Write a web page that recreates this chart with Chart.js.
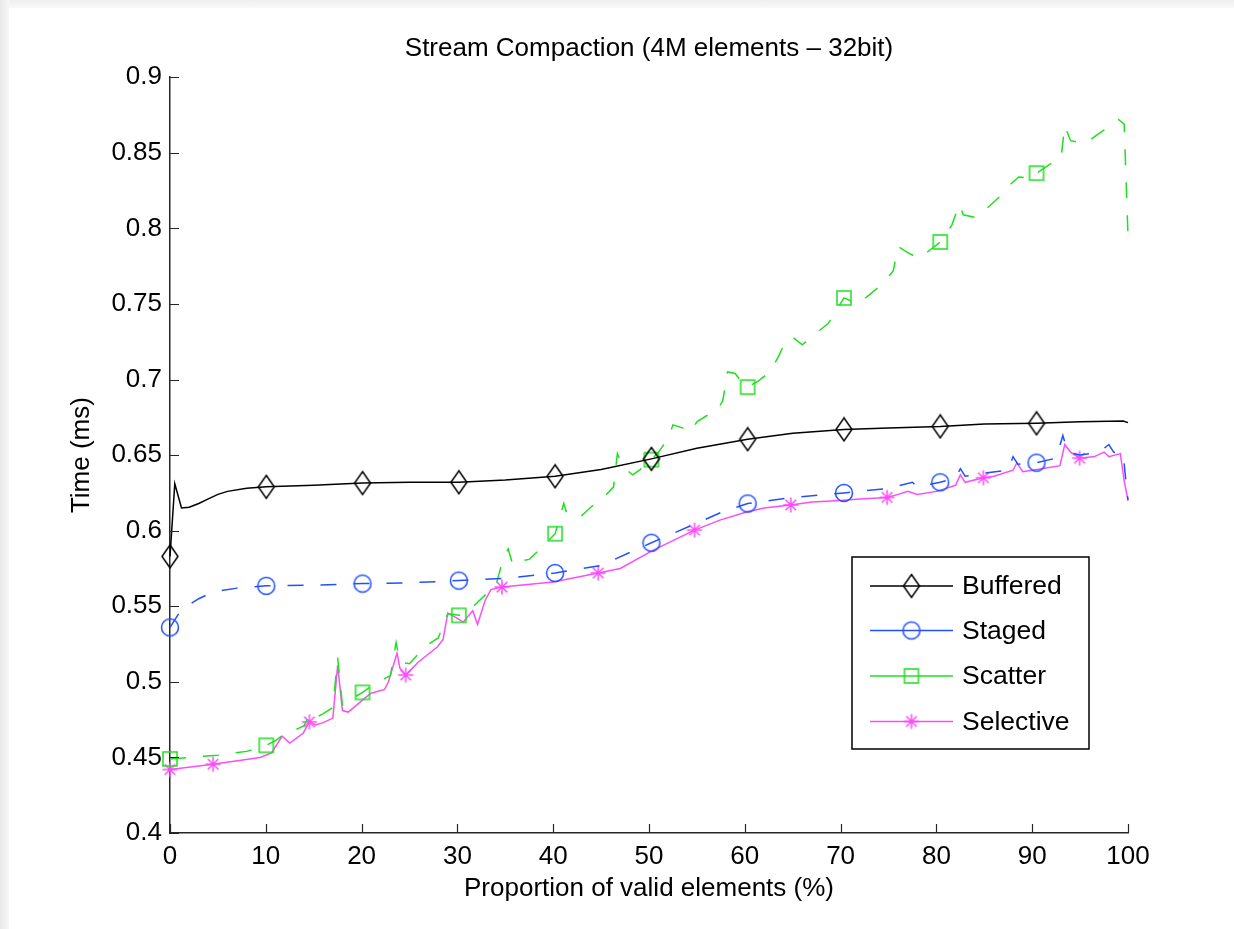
<!DOCTYPE html>
<html>
<head>
<meta charset="utf-8">
<script src="https://cdn.jsdelivr.net/npm/chart.js@4.4.0/dist/chart.umd.min.js"></script>
<style>
  html, body { margin: 0; padding: 0; background: #fff; overflow: hidden; }
  #frameTop { position: absolute; left: 0; top: 0; width: 1234px; height: 8px;
    background: linear-gradient(#eeeeee, #f9f9f9); }
  #frameLeft { position: absolute; left: 0; top: 0; width: 9px; height: 929px;
    background: linear-gradient(to right, #e9e9e9, #f7f7f7); }
  #wrap { position: absolute; left: 0; top: 0; width: 1234px; height: 929px; }
</style>
</head>
<body>
<div id="frameTop"></div>
<div id="frameLeft"></div>
<div id="wrap"><canvas id="chart"></canvas></div>
<script>
// Stream compaction timings
const xTicks = [0, 10, 20, 30, 40, 50, 60, 70, 80, 90, 100];
const yTicks = [0.4, 0.45, 0.5, 0.55, 0.6, 0.65, 0.7, 0.75, 0.8, 0.85, 0.9];

const bufferedX = [0, 0.5, 1.2, 2, 3, 4, 5, 6, 8, 10.05, 15, 20.1, 25, 30.15, 35, 40.2, 45, 50.25, 55, 60.3, 65, 70.35, 75, 80.4, 85, 90.45, 95, 99.5, 100];
const bufferedY = [0.583, 0.631, 0.615, 0.6155, 0.618, 0.621, 0.624, 0.626, 0.628, 0.629, 0.630, 0.6315, 0.632, 0.632, 0.6335, 0.636, 0.6405, 0.6475, 0.6545, 0.6605, 0.6645, 0.667, 0.668, 0.669, 0.6705, 0.671, 0.672, 0.6725, 0.6715];

const stagedX = [0, 1, 2, 3, 4, 5, 7, 10.05, 15, 20.1, 25, 30.15, 35, 40.2, 45, 50.25, 55, 57.5, 60.3, 65, 70.35, 75, 77.5, 78, 80.4, 82, 82.5, 83, 85, 87.5, 88, 88.5, 90.45, 92.5, 93.2, 93.7, 95, 97, 98, 98.5, 99.5, 100];
const stagedY = [0.536, 0.546, 0.551, 0.555, 0.558, 0.560, 0.562, 0.5635, 0.564, 0.565, 0.5655, 0.567, 0.5685, 0.572, 0.577, 0.592, 0.605, 0.612, 0.618, 0.622, 0.625, 0.628, 0.632, 0.629, 0.632, 0.635, 0.641, 0.636, 0.638, 0.640, 0.649, 0.644, 0.645, 0.648, 0.663, 0.652, 0.650, 0.652, 0.657, 0.652, 0.650, 0.620];

const scatterX = [0, 2, 5, 8, 10.05, 11, 12, 13, 14, 14.6, 15.1, 16, 17, 17.5, 18, 19, 20.1, 21, 22, 23, 23.6, 24, 25, 26, 27, 28, 29, 30.15, 31, 32, 33, 34, 34.7, 35.3, 35.8, 36.5, 37.5, 38.5, 40.2, 41.1, 41.5, 43, 44, 45, 46.3, 46.7, 47.3, 48.3, 49, 50.25, 51, 52, 52.5, 53.5, 54.3, 55, 56, 57, 57.7, 58.2, 59, 59.7, 60.3, 61.4, 62.6, 63.5, 64.3, 65, 66, 67.5, 68.7, 70.35, 71.8, 73, 74.5, 75.5, 76, 77, 78.2, 79.4, 80.4, 81.6, 82.4, 82.8, 84.2, 85.4, 86.6, 87.7, 88.6, 90, 90.45, 92, 93, 93.4, 94, 95.5, 96.8, 98.2, 99, 99.6, 100];
const scatterY = [0.449, 0.450, 0.4515, 0.454, 0.458, 0.461, 0.466, 0.468, 0.471, 0.479, 0.476, 0.479, 0.483, 0.516, 0.484, 0.489, 0.493, 0.497, 0.501, 0.504, 0.526, 0.513, 0.512, 0.519, 0.525, 0.529, 0.545, 0.544, 0.546, 0.552, 0.558, 0.563, 0.580, 0.588, 0.577, 0.580, 0.581, 0.587, 0.598, 0.618, 0.610, 0.610, 0.616, 0.620, 0.629, 0.651, 0.642, 0.637, 0.640, 0.647, 0.652, 0.661, 0.670, 0.668, 0.665, 0.672, 0.676, 0.678, 0.686, 0.705, 0.704, 0.698, 0.695, 0.699, 0.705, 0.715, 0.726, 0.728, 0.723, 0.731, 0.737, 0.754, 0.750, 0.756, 0.764, 0.772, 0.788, 0.784, 0.780, 0.786, 0.791, 0.802, 0.816, 0.809, 0.807, 0.814, 0.821, 0.829, 0.834, 0.833, 0.8365, 0.843, 0.846, 0.868, 0.858, 0.856, 0.862, 0.868, 0.872, 0.869, 0.795];

const selectiveX = [0, 4.5, 9.4, 10.6, 11.7, 12.5, 13.9, 14.55, 15.2, 16, 17, 17.5, 18, 18.6, 20.5, 21, 22.4, 22.8, 23.7, 24, 24.6, 25.9, 27.9, 28.5, 29, 30, 30.6, 31.6, 32.1, 32.9, 33.5, 34.65, 40, 44.7, 47, 50.4, 54.75, 57.4, 60, 62, 64.8, 67, 70, 72, 74.85, 76, 77, 78, 80, 81, 82, 82.5, 83, 84.9, 86, 88, 88.4, 89, 91, 92.9, 93.4, 94, 94.95, 96.5, 97.5, 98, 99.2, 99.6, 100];
const selectiveY = [0.442, 0.4455, 0.450, 0.453, 0.464, 0.4595, 0.466, 0.4735, 0.4715, 0.473, 0.476, 0.511, 0.481, 0.480, 0.490, 0.4925, 0.495, 0.500, 0.519, 0.509, 0.5045, 0.513, 0.523, 0.528, 0.5455, 0.542, 0.5395, 0.547, 0.538, 0.554, 0.561, 0.5627, 0.566, 0.572, 0.575, 0.587, 0.6004, 0.607, 0.612, 0.615, 0.617, 0.619, 0.620, 0.621, 0.622, 0.624, 0.626, 0.624, 0.626, 0.628, 0.630, 0.637, 0.632, 0.635, 0.636, 0.640, 0.645, 0.639, 0.641, 0.643, 0.657, 0.652, 0.648, 0.649, 0.652, 0.649, 0.651, 0.633, 0.620];

// where MATLAB put the markers
const markEvery10 = [0, 10.05, 20.1, 30.15, 40.2, 50.25, 60.3, 70.35, 80.4, 90.45];
const markSelective = [0, 4.5, 14.55, 24.6, 34.65, 44.7, 54.75, 64.8, 74.85, 84.9, 94.95];

const FONT = "'Liberation Sans', Arial, Helvetica, sans-serif";
const BLACK = '#000000';
const BLUE = '#2150ff';
const GREEN = '#1fe01f';
const MAGENTA = '#fa4ef8';

// marker glyphs as small canvases, used by the chart and the legend
function makeMarker(type, color) {
    const c = document.createElement('canvas');
    const size = type === 'diamond' ? [20, 26] : [22, 22];
    c.width = size[0];
    c.height = size[1];
    const g = c.getContext('2d');
    const cx = c.width / 2, cy = c.height / 2;
    g.strokeStyle = color;
    g.lineWidth = 1.5;
    g.beginPath();
    if (type === 'diamond') {
        g.moveTo(cx, cy - 11.5);
        g.lineTo(cx + 8, cy);
        g.lineTo(cx, cy + 11.5);
        g.lineTo(cx - 8, cy);
        g.closePath();
    } else if (type === 'circle') {
        g.arc(cx, cy, 8.5, 0, Math.PI * 2);
    } else if (type === 'square') {
        g.rect(cx - 7, cy - 7, 14, 14);
    } else if (type === 'star') {
        const r = 7.5, d = r * Math.SQRT1_2;
        g.moveTo(cx - r, cy); g.lineTo(cx + r, cy);
        g.moveTo(cx, cy - r); g.lineTo(cx, cy + r);
        g.moveTo(cx - d, cy - d); g.lineTo(cx + d, cy + d);
        g.moveTo(cx - d, cy + d); g.lineTo(cx + d, cy - d);
    }
    g.stroke();
    return c;
}

function toPoints(xs, ys) {
    return xs.map((x, i) => ({ x: x, y: ys[i] }));
}

function series(label, xs, ys, color, dash, marker, marks) {
    return {
        label: label,
        data: toPoints(xs, ys),
        borderColor: color,
        borderWidth: 1.5,
        borderDash: dash,
        fill: false,
        tension: 0,
        clip: false,
        pointStyle: makeMarker(marker, color),
        pointRadius: ctx => (ctx.raw && marks.includes(ctx.raw.x)) ? 6 : 0,
        pointHoverRadius: ctx => (ctx.raw && marks.includes(ctx.raw.x)) ? 6 : 0
    };
}

const datasets = [
    series('Buffered', bufferedX, bufferedY, BLACK, [], 'diamond', markEvery10),
    series('Staged', stagedX, stagedY, BLUE, [16, 17], 'circle', markEvery10),
    series('Scatter', scatterX, scatterY, GREEN, [16, 17], 'square', markEvery10),
    series('Selective', selectiveX, selectiveY, MAGENTA, [], 'star', markSelective)
];

// MATLAB style ticks pointing into the axes
const innerTicks = {
    id: 'innerTicks',
    afterDraw(chart) {
        const { ctx, chartArea, scales } = chart;
        ctx.save();
        ctx.strokeStyle = '#262626';
        ctx.lineWidth = 1.2;
        ctx.beginPath();
        scales.x.ticks.forEach(t => {
            const px = Math.round(scales.x.getPixelForValue(t.value)) + 0.5;
            ctx.moveTo(px, chartArea.bottom);
            ctx.lineTo(px, chartArea.bottom - 9);
        });
        scales.y.ticks.forEach(t => {
            const py = Math.round(scales.y.getPixelForValue(t.value)) + 0.5;
            ctx.moveTo(chartArea.left, py);
            ctx.lineTo(chartArea.left + 9, py);
        });
        ctx.stroke();
        ctx.restore();
    }
};

// boxed legend with line + marker samples
const boxLegend = {
    id: 'boxLegend',
    afterDraw(chart) {
        const ctx = chart.ctx;
        const box = { left: 852, top: 557, right: 1089, bottom: 749 };
        const rows = [586, 630.5, 676, 721.5];
        ctx.save();
        ctx.fillStyle = '#fff';
        ctx.fillRect(box.left, box.top, box.right - box.left, box.bottom - box.top);
        ctx.strokeStyle = '#000';
        ctx.lineWidth = 1.5;
        ctx.strokeRect(box.left, box.top, box.right - box.left, box.bottom - box.top);
        ctx.font = '26.5px ' + FONT;
        ctx.textBaseline = 'middle';
        ctx.fillStyle = '#000';
        chart.data.datasets.forEach((ds, i) => {
            const y = rows[i];
            ctx.strokeStyle = ds.borderColor;
            ctx.lineWidth = 1.5;
            ctx.setLineDash([]);
            ctx.beginPath();
            ctx.moveTo(870, y);
            ctx.lineTo(953, y);
            ctx.stroke();
            const m = ds.pointStyle;
            ctx.drawImage(m, 911.5 - m.width / 2, y - m.height / 2);
            ctx.fillText(ds.label, 962, y + 1);
        });
        ctx.restore();
    }
};

Chart.defaults.font.family = FONT;
Chart.defaults.color = '#000';

new Chart(document.getElementById('chart'), {
    type: 'line',
    data: { datasets: datasets },
    options: {
        responsive: true,
        maintainAspectRatio: false,
        animation: false,
        events: [],
        devicePixelRatio: 1,
        layout: { padding: { left: 0, right: 106, top: 0, bottom: 0 } },
        plugins: {
            legend: { display: false },
            tooltip: { enabled: false },
            title: {
                display: true,
                fullSize: false,
                text: 'Stream Compaction (4M elements \u2013 32bit)',
                color: '#000',
                font: { size: 26, weight: 'normal' },
                padding: { top: 33, bottom: 13 }
            }
        },
        scales: {
            x: {
                type: 'linear',
                min: 0,
                max: 100,
                afterBuildTicks: s => { s.ticks = xTicks.map(v => ({ value: v })); },
                afterFit: s => { s.height = 96; },
                grid: { display: false, drawTicks: false },
                border: { display: true, color: '#262626', width: 1.5 },
                ticks: { padding: 8, font: { size: 26 }, color: '#000', maxRotation: 0 },
                title: {
                    display: true,
                    text: 'Proportion of valid elements (%)',
                    font: { size: 26 },
                    color: '#000',
                    padding: { top: 0, bottom: 25 }
                }
            },
            y: {
                type: 'linear',
                min: 0.4,
                max: 0.9,
                afterBuildTicks: s => { s.ticks = yTicks.map(v => ({ value: v })); },
                afterFit: s => { s.width = 170; },
                grid: { display: false, drawTicks: false },
                border: { display: true, color: '#262626', width: 1.5 },
                ticks: {
                    padding: 8,
                    font: { size: 26 },
                    color: '#000',
                    callback: v => String(Number(v.toFixed(2)))
                },
                title: {
                    display: true,
                    text: 'Time (ms)',
                    font: { size: 26 },
                    color: '#000',
                    padding: { top: 66, bottom: 0 }
                }
            }
        }
    },
    plugins: [innerTicks, boxLegend]
});
</script>
</body>
</html>
